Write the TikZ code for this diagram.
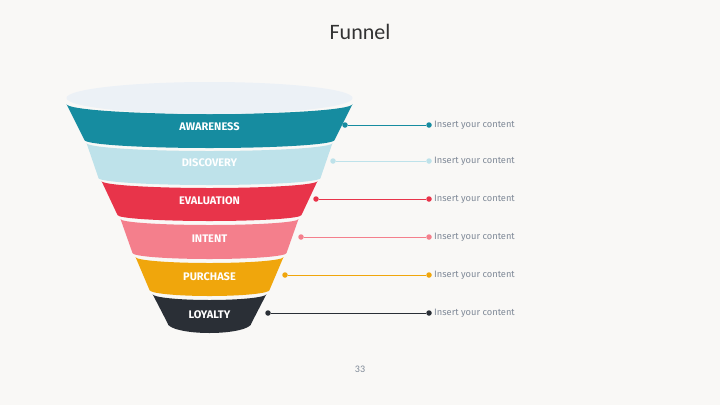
\documentclass[tikz,border=0pt]{standalone}
\usepackage{fontspec}
\setsansfont{Fira Sans}
\newfontfamily\titlefont{Carlito}
\usepackage{xcolor}
\usetikzlibrary{positioning}
\definecolor{PaperWhite}  {RGB}{249,248,246}
\definecolor{RimGray}     {RGB}{236,241,246}
\definecolor{AwareTeal}   {RGB}{22, 140,160}
\definecolor{DiscoverBlue}{RGB}{190,226,234}
\definecolor{EvalRed}     {RGB}{232, 52, 74}
\definecolor{IntentPink}  {RGB}{244,127,140}
\definecolor{BuyAmber}    {RGB}{240,166, 12}
\definecolor{LoyalDark}   {RGB}{42,  47, 54}
\definecolor{NoteGray}    {RGB}{128,138,152}
\definecolor{TitleGray}   {RGB}{51,  51, 51}

\begin{document}
\begin{tikzpicture}[
    x=1pt, y=-1pt,
    tag/.style={font=\sffamily\bfseries\fontsize{11}{13}\selectfont, text=white, inner sep=1pt},
    dot/.style={circle, inner sep=0pt, minimum size=5.5pt},
    link/.style={line width=0.8pt},
    note/.style={font=\sffamily\fontsize{9.3}{11}\selectfont, text=NoteGray, inner sep=1pt}
]

    % Page
    \fill[PaperWhite] (0,0) rectangle (720,405);
    \useasboundingbox (0,0) rectangle (720,405);

    \node[font=\titlefont\fontsize{22}{26}\selectfont, text=TitleGray] (title) at (360,32) {Funnel};
    \node[font=\titlefont\fontsize{10}{12}\selectfont, text=NoteGray] (pagenum) at (360,369) {33};

    % Funnel bands
    \fill[AwareTeal] (66.5,104) -- (84.5,140) arc[start angle=180, end angle=360, x radius=125pt, y radius=8pt]
        -- (352.5,104) arc[start angle=0, end angle=-180, x radius=143pt, y radius=10pt] -- cycle;
    \fill[DiscoverBlue] (86.5,143) -- (98.5,178) arc[start angle=180, end angle=360, x radius=111pt, y radius=7pt]
        -- (332.5,143) arc[start angle=0, end angle=-180, x radius=123pt, y radius=8pt] -- cycle;
    \fill[EvalRed] (101.5,181) -- (117.5,215) arc[start angle=180, end angle=360, x radius=92pt, y radius=6pt]
        -- (317.5,181) arc[start angle=0, end angle=-180, x radius=108pt, y radius=7pt] -- cycle;
    \fill[IntentPink] (120.5,219) -- (132.5,253) arc[start angle=180, end angle=360, x radius=77pt, y radius=6pt]
        -- (298.5,219) arc[start angle=0, end angle=-180, x radius=89pt, y radius=6pt] -- cycle;
    \fill[BuyAmber] (135.5,257) -- (149.5,290) arc[start angle=180, end angle=360, x radius=60pt, y radius=6pt]
        -- (283.5,257) arc[start angle=0, end angle=-180, x radius=74pt, y radius=6pt] -- cycle;
    \fill[LoyalDark] (152.5,294) -- (167.5,323) arc[start angle=180, end angle=360, x radius=42pt, y radius=10pt]
        -- (266.5,294) arc[start angle=0, end angle=-180, x radius=57pt, y radius=6pt] -- cycle;

    % Rim
    \fill[RimGray] (209.5,98) ellipse[x radius=143pt, y radius=16pt];

    % Band labels
    \node[tag] (awareness) at (209.5,127) {AWARENESS};
    \node[tag] (discovery) at (209.5,163) {DISCOVERY};
    \node[tag] (evaluation) at (209.5,201) {EVALUATION};
    \node[tag] (intent) at (209.5,239) {INTENT};
    \node[tag] (purchase) at (209.5,277) {PURCHASE};
    \node[tag] (loyalty) at (209.5,315) {LOYALTY};

    % Callout dots
    \node[dot, fill=AwareTeal] (aw-in) at (345,125) {};
    \node[dot, fill=AwareTeal] (aw-out) at (429,125) {};
    \node[dot, fill=DiscoverBlue] (di-in) at (333,161) {};
    \node[dot, fill=DiscoverBlue] (di-out) at (429,161) {};
    \node[dot, fill=EvalRed] (ev-in) at (316,199) {};
    \node[dot, fill=EvalRed] (ev-out) at (429,199) {};
    \node[dot, fill=IntentPink] (in-in) at (301,237) {};
    \node[dot, fill=IntentPink] (in-out) at (429,237) {};
    \node[dot, fill=BuyAmber] (pu-in) at (285,275) {};
    \node[dot, fill=BuyAmber] (pu-out) at (429,275) {};
    \node[dot, fill=LoyalDark] (lo-in) at (268,313) {};
    \node[dot, fill=LoyalDark] (lo-out) at (429,313) {};

    % Callout lines
    \draw[link, AwareTeal] (aw-in) -- (aw-out);
    \draw[link, DiscoverBlue] (di-in) -- (di-out);
    \draw[link, EvalRed] (ev-in) -- (ev-out);
    \draw[link, IntentPink] (in-in) -- (in-out);
    \draw[link, BuyAmber] (pu-in) -- (pu-out);
    \draw[link, LoyalDark] (lo-in) -- (lo-out);

    % Notes
    \node[note, right=1pt of aw-out] (aw-note) {Insert your content};
    \node[note, right=1pt of di-out] (di-note) {Insert your content};
    \node[note, right=1pt of ev-out] (ev-note) {Insert your content};
    \node[note, right=1pt of in-out] (in-note) {Insert your content};
    \node[note, right=1pt of pu-out] (pu-note) {Insert your content};
    \node[note, right=1pt of lo-out] (lo-note) {Insert your content};

\end{tikzpicture}
\end{document}
